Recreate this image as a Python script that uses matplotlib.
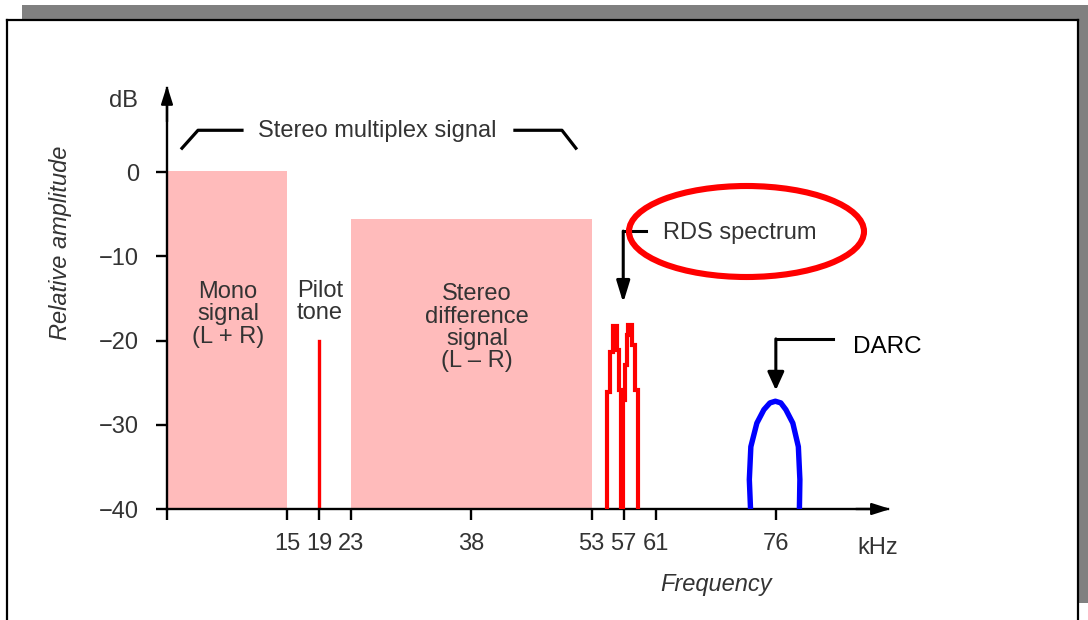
import matplotlib
matplotlib.use("Agg")
import matplotlib.pyplot as plt
from matplotlib.patches import Rectangle, Ellipse
from matplotlib.lines import Line2D

plt.rcParams['font.family'] = ['Liberation Sans', 'DejaVu Sans']

# ---------------- data ----------------
# Baseband blocks (kHz start, kHz end, top level dB)
mono_band = (0, 15, 0.1)
stereo_diff_band = (23, 53, -5.6)
pilot_freq = 19
pilot_level = -20

# RDS spectrum drawn as a stepped outline
rds_edges = [54.97, 55.28, 55.62, 56.16, 56.47, 56.72, 56.91, 57.16, 57.37,
             57.57, 58.07, 58.40, 58.74]
rds_levels = [-26.1, -21.4, -18.3, -21.1, -25.9, -40.0, -27.0, -22.9, -19.3,
              -18.1, -20.5, -25.9]

# DARC spectrum (blue arch)
darc_freq = [72.84, 72.69, 72.88, 73.63, 74.51, 75.26, 75.94, 76.62, 77.25,
             78.12, 78.81, 79.0, 78.94]
darc_db = [-40.0, -36.5, -32.6, -29.8, -28.2, -27.4, -27.2, -27.4, -28.2,
           -29.8, -32.6, -36.5, -40.0]

x_ticks = [0, 15, 19, 23, 38, 53, 57, 61, 76]
x_tick_labels = ['', '15', '19', '23', '38', '53', '57', '61', '76']
y_ticks = [0, -10, -20, -30, -40]
y_tick_labels = ['0', '\u221210', '\u221220', '\u221230', '\u221240']

# ---------------- figure ----------------
W, H = 1088, 620
fig = plt.figure(figsize=(W / 100, H / 100), dpi=100)
fig.patch.set_facecolor('white')


def fx(px):
    return px / W


def fy(py):
    return 1 - py / H


# grey shadow bars and black frame
fig.add_artist(Rectangle((fx(22), fy(20)), (W - 22) / W, 15 / H,
                         transform=fig.transFigure, color='#808080', lw=0))
fig.add_artist(Rectangle((fx(1079), fy(603)), 9 / W, (603 - 5) / H,
                         transform=fig.transFigure, color='#808080', lw=0))
for xs, ys in [([7, 7], [20, 620]), ([7, 1078], [20, 20]), ([1078, 1078], [20, 620])]:
    fig.add_artist(Line2D([fx(v) for v in xs], [fy(v) for v in ys],
                          transform=fig.transFigure, color='black', lw=1.6))

ax = fig.add_axes([fx(167), fy(509), (888 - 167) / W, (509 - 88) / H])
ax.set_xlim(0, 90)
ax.set_ylim(-40, 10)
ax.patch.set_alpha(0)
for s in ['top', 'right']:
    ax.spines[s].set_visible(False)
for s in ['left', 'bottom']:
    ax.spines[s].set_linewidth(1.7)
    ax.spines[s].set_color('black')

ax.set_xticks(x_ticks)
ax.set_xticklabels(x_tick_labels)
ax.set_yticks(y_ticks)
ax.set_yticklabels(y_tick_labels)
ax.tick_params(axis='both', direction='out', length=8, width=1.7,
               colors='black', labelcolor='#333333', labelsize=17)
ax.tick_params(axis='x', pad=9)
ax.tick_params(axis='y', pad=12)

# axis arrowheads
ax.annotate('', xy=(90.3, -40), xytext=(86, -40),
            arrowprops=dict(arrowstyle='-|>,head_length=1.1,head_width=0.35',
                            color='black', lw=1.7, shrinkA=0, shrinkB=0),
            annotation_clip=False)
ax.annotate('', xy=(0, 10.3), xytext=(0, 6),
            arrowprops=dict(arrowstyle='-|>,head_length=1.1,head_width=0.35',
                            color='black', lw=1.7, shrinkA=0, shrinkB=0),
            annotation_clip=False)

pink = '#FFBBBB'
ax.fill_between([mono_band[0], mono_band[1]], -40, mono_band[2], color=pink, lw=0, zorder=1)
ax.fill_between([stereo_diff_band[0], stereo_diff_band[1]], -40, stereo_diff_band[2],
                color=pink, lw=0, zorder=1)
ax.plot([pilot_freq, pilot_freq], [-40, pilot_level], color='#FF0000', lw=2.4, zorder=2)

ax.stairs(rds_levels, rds_edges, baseline=-40, color='#FF0000', lw=3.0, zorder=3)
ax.plot(darc_freq, darc_db, color='#0000FF', lw=3.9, solid_joinstyle='round',
        solid_capstyle='butt', zorder=3)

txt = dict(color='#333333', fontsize=17)
ax.text(7.61, -16.9, 'Mono\nsignal\n(L + R)', ha='center', va='center', linespacing=1.02, **txt)
ax.text(19.1, -15.4, 'Pilot\ntone', ha='center', va='center', linespacing=1.02, **txt)
ax.text(38.7, -18.5, 'Stereo\ndifference\nsignal\n(L \u2013 R)', ha='center', va='center',
        linespacing=1.02, **txt)
ax.text(26.3, 4.87, 'Stereo multiplex signal', ha='center', va='center', **txt)
ax.text(-3.6, 8.4, 'dB', ha='right', va='center', **txt)
ax.text(88.7, -44.6, 'kHz', ha='center', va='center', clip_on=False, **txt)
ax.text(68.6, -49.0, 'Frequency', ha='center', va='center', style='italic', clip_on=False, **txt)
ax.text(-13.35, -8.4, 'Relative amplitude', ha='center', va='center', rotation=90,
        style='italic', clip_on=False, **txt)

# bracket around "Stereo multiplex signal"
ax.plot([1.87, 3.87, 9.36], [2.85, 4.98, 4.98], color='black', lw=2.3, clip_on=False)
ax.plot([43.43, 49.3, 51.04], [4.98, 4.98, 2.85], color='black', lw=2.3, clip_on=False)

# RDS label, ellipse and arrow
ax.text(61.9, -7.25, 'RDS spectrum', ha='left', va='center', **txt)
ax.plot([56.95, 59.8], [-7.0, -7.0], color='black', lw=2.2)
ax.annotate('', xy=(56.95, -15.5), xytext=(56.95, -7.0),
            arrowprops=dict(arrowstyle='-|>,head_length=1.3,head_width=0.4',
                            color='black', lw=2.2, shrinkA=0, shrinkB=0))
fig.add_artist(Ellipse((fx(746.5), fy(231.5)), 235 / W, 91 / H, transform=fig.transFigure,
                       fill=False, edgecolor='#FF0000', lw=4.4))

# DARC label and arrow
ax.text(85.6, -20.8, 'DARC', ha='left', va='center', color='black', fontsize=17.5)
ax.plot([76.0, 83.1], [-19.8, -19.8], color='black', lw=2.2)
ax.annotate('', xy=(76.0, -25.9), xytext=(76.0, -19.8),
            arrowprops=dict(arrowstyle='-|>,head_length=1.1,head_width=0.5',
                            color='black', lw=2.2, shrinkA=0, shrinkB=0))

fig.savefig('out.png', dpi=100)
